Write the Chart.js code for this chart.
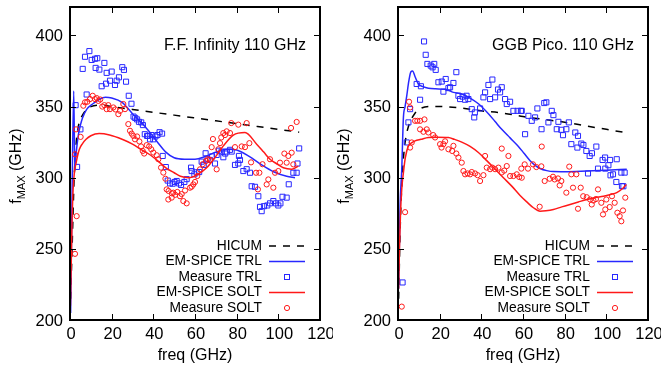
<!DOCTYPE html>
<html>
<head>
<meta charset="utf-8">
<script src="https://cdn.jsdelivr.net/npm/chart.js@4.4.0/dist/chart.umd.min.js"></script>
<style>
  html, body { margin: 0; padding: 0; background: #fff; }
  #wrap { position: relative; width: 667px; height: 369px; }
  .panel { position: absolute; top: 0; width: 333px; height: 369px; }
</style>
</head>
<body>
<div id="wrap">
  <div class="panel" style="left:0"><canvas id="left"></canvas></div>
  <div class="panel" style="left:328px"><canvas id="right"></canvas></div>
</div>
<script>
// axes
const xTicks = [0, 20, 40, 60, 80, 100, 120];
const yTicks = [200, 250, 300, 350, 400];
const legendNames = ['HICUM', 'EM-SPICE TRL', 'Measure TRL', 'EM-SPICE SOLT', 'Measure SOLT'];

// --- F.F. Infinity (left) ---
const hicumL = [[0.3,215],[1,250],[2,300],[3,325],[4,336],[5,341],[6,344],[8,348],[10,350],[15,351],[20,350],[30,348],[40,346],[50,344],[60,342],[70,340],[80,338],[90,336],[100,334],[110,332]];
const trlLineL = [[0.3,205],[1.0,290],[1.8,361],[2.3,305],[3,318],[4,330],[5,337],[6,342],[8,348],[11,352],[14,355],[17,356.5],[20,356],[25,353],[30,345],[36,336],[42,325],[46,318],[50,314],[55,313],[60,313],[65,315],[70,318],[76,320],[80,319.5],[86,315],[92,309],[98,304],[104,301],[108,300]];
const trlPtsL = [[2.7,351],[3.4,307.6],[5.0,334],[8.0,358.5],[6.1,376.5],[7.2,385],[9.3,389],[10.4,382.8],[12,383.6],[13.1,384],[12.3,377.2],[14.1,376],[16.5,380.7],[17.6,373.7],[20,374.6],[15.2,364.3],[17.3,366.1],[19.2,368.2],[21.6,365.2],[22.4,368.2],[23.5,370.6],[25.1,377.7],[25.9,375.8],[26.9,367.5],[28.2,357.6],[29.5,352],[30.5,343],[31.3,342],[32.2,341],[33.1,339.3],[34.2,338.9],[35,337],[35.9,330.6],[37,329.4],[37.4,329.4],[38.4,327],[39.2,330],[40,327],[41,329],[42,330],[43,332],[44.2,331],[44.5,315.3],[46,307.5],[46.9,298],[48,296],[49.3,295.8],[50.2,297],[51.2,297.7],[52.3,296],[53.3,294.9],[54.9,297],[56,299],[58.1,307.1],[58.4,304.7],[59.7,302.4],[60.8,303.8],[62,304],[63.2,311.3],[64.2,309],[65.1,317.2],[66,313],[67.2,312.5],[68.2,315],[69.6,310],[70.4,316],[71.5,319],[72.8,318.4],[73.6,314.4],[74.5,317],[75.2,318.4],[76.8,319.6],[77.6,318.4],[79.2,309],[80.8,310],[81.1,315.3],[81.6,312.5],[83.2,304.7],[84.8,306],[86.4,303.5],[87.2,294],[88.8,293.6],[90.4,287],[91.2,279.5],[92,276.5],[93.1,280],[94.7,280.5],[96,282],[97.6,283.6],[98.9,282],[100,280.5],[101,282],[102,286.6],[104,286],[105,295.4],[107.2,303.5],[108.8,303.5],[109.2,310],[110,320.6]];
const soltLineL = [[0.2,210],[0.6,240],[1.0,270],[1.5,292],[2.1,303.6],[3,311],[4.5,320],[6,324],[7.7,327],[10,329.5],[14,331],[19,330],[25,327],[30,323.6],[34,320],[38,316.5],[42,312],[46,307],[50,303.5],[53,301],[57,300],[61,302],[65.6,307],[70,315],[73.6,322.4],[78.4,330],[84,331.8],[89.6,323.6],[93,318],[96,313],[99,310],[102.4,307],[106.4,306],[109.6,308.2]];
const soltPtsL = [[2.4,246.5],[3.2,273],[2.4,316.5],[2.9,334],[5.1,328.7],[6.4,350.6],[7.2,353],[8.3,353.4],[9.6,355.3],[10.9,357.6],[12,355.3],[12.8,356],[13.6,354],[14.5,355],[15.5,350],[16.5,351],[17.6,348.2],[18.4,351],[19.2,348.2],[20.8,349.4],[21.8,348],[23.2,344.7],[24,347],[25.6,351.8],[26.4,348.2],[28,337.7],[28.8,333],[29.6,331],[30.4,329.4],[31.2,327],[32.2,329],[33.3,325.5],[34.1,322],[34.9,318.8],[35.6,317],[36.8,322.9],[38,322],[39,320],[40,317.7],[41.6,315.8],[42.4,313],[43.7,307.1],[44.8,303.6],[45.8,299.3],[46.4,291.8],[47.3,290.7],[47.2,284.7],[48.8,286],[48.9,289],[49.6,289.5],[50.5,288],[51.5,290],[52.8,287],[53.6,288.5],[54.4,283.6],[55.2,291],[56,282],[57.6,293],[58.4,293.7],[59.2,295.3],[60,297],[61.1,301.2],[62.4,305.9],[63.7,309.5],[65.3,311.8],[66.2,313],[67.2,312.5],[68,321.5],[68.6,327.2],[70.4,305.9],[71.2,320],[72,324.3],[72.6,328.3],[73.6,331.4],[74.4,330],[75.2,332.6],[76.8,331.4],[77.4,338.4],[79.2,321.5],[80.8,337.3],[82.4,322],[84,321.5],[84.8,338.4],[86.1,324.3],[86.9,310.8],[89.3,303.5],[90.2,291.8],[90.9,303.5],[92.4,309.5],[94.4,295.3],[95.2,298.8],[96,313],[97.6,293],[98.4,303.5],[100,304.7],[100.8,310.6],[102.9,317],[104,310.6],[104.8,315.3],[106.1,335],[106.4,317.6],[107.2,309.4],[108.8,339.2]];

// --- GGB Pico (right) ---
const hicumR = [[0.3,215],[0.6,235],[1,262],[2,300],[3,320],[4,330],[5,336],[6,340],[8,345],[10,348],[15,350],[20,350],[30,349],[40,347],[50,345.5],[60,343],[70,341],[80,339],[90,336.5],[100,334],[110,331.5]];
const trlLineR = [[0.3,222],[1.0,280],[1.8,306],[2.6,342.4],[3.4,350],[4.2,357.6],[5.2,368],[6.2,374.5],[7.0,375],[8.2,371],[9.8,365.9],[12,364],[14.6,362.9],[18,362.5],[22.6,362.2],[26.6,360],[30.6,358.9],[34.6,356],[38.6,352],[43.4,345],[46.6,339.5],[49.8,334],[53.8,328],[57.8,322],[60.6,317],[63.4,312],[66,308.5],[68.2,306.5],[71.4,305],[74.6,304.3],[80,304.2],[90.6,304.7],[100,305.3],[109.8,306]];
const trlPtsR = [[2.2,226.4],[4.2,324.8],[5,338.9],[5.8,348.2],[8.96,365.9],[10.6,354.8],[11,364.3],[12.5,395.8],[13.3,386.4],[14.1,380],[15.7,378.8],[16.6,377.6],[17.4,380],[18.1,375.8],[19.4,367.1],[21,367.6],[21.8,360.5],[22.9,369.4],[24.2,363],[25,363.6],[26.6,366.6],[28,374.2],[29,357.6],[29.8,355.3],[31,357],[32.2,354.8],[32.9,357.6],[33.8,355.3],[35.4,348.2],[36.6,342.4],[36.9,345.9],[39.4,348.7],[41,356.5],[41.8,360],[43.4,365.2],[44.2,355.3],[45.3,369],[46.6,356.5],[48,362],[49,360],[49.8,363.6],[51.4,355.3],[52.2,351.8],[53.8,353.4],[55.4,347],[57.4,347],[59,347],[59.4,347],[61,330.6],[62.6,343.5],[64.2,340],[65.8,342.4],[66.9,348.7],[68.9,334.1],[70.2,352.5],[71.2,353],[72.2,338.9],[73.8,347],[74.6,344],[76.2,334.1],[77,339.3],[78.4,333.7],[79.2,329.9],[80.8,334.1],[82,338.9],[83.2,323.6],[85.1,331.8],[86.1,321.2],[86.4,329.4],[88,324],[89,323],[90.4,318.8],[91.2,303],[92,315.3],[93.1,317.2],[95.2,321.9],[96,306.4],[98.2,312.5],[99.4,314.2],[99.5,306.4],[101,308.8],[101.8,312.5],[102,301.7],[103.2,302.4],[104.8,297],[105,313],[107.2,303.6],[107.5,294.1],[108.2,294],[108.8,303.6]];
const soltLineR = [[0.3,222],[0.7,250],[1.2,275],[1.8,292],[2.6,303.6],[3.5,314],[5,322.4],[6.5,324.5],[8.2,325.9],[11,327],[14.6,328.3],[19,328.5],[24.2,328.3],[27,327],[30.6,325],[34.6,322],[38.6,317.7],[42.6,312],[46.6,306],[50.6,300],[54.6,294.1],[58.6,287.5],[61.8,283],[65,278.9],[68.2,276.5],[71,276.8],[74.6,277.7],[78.6,279.5],[82.6,281.2],[86.6,283],[90.6,284.7],[94.6,286],[98.6,287],[102,288.2],[105,289.5],[108.2,293],[109.6,295.3]];
const soltPtsR = [[1.8,209.4],[3.4,275.8],[5.3,353.4],[5.8,349.4],[5.8,321.2],[6.6,324.8],[8.2,340],[9.3,340],[10.6,340],[12.7,341],[10.6,334],[12.2,332.3],[13.8,334],[14.6,331.8],[16.9,330],[17.8,328.3],[20.2,323.6],[20.9,321.2],[21.8,323.6],[22.6,325.6],[24.2,320],[26,318.8],[26.6,322.4],[28,317],[29,314.2],[30.6,310.6],[31.4,304.7],[32.2,302.4],[33.4,303],[34.6,302.4],[35.4,304],[37,303],[38.2,301.8],[39.4,297.7],[41,301.8],[41.8,315.3],[42.6,307.1],[44.2,306],[45.3,307.1],[46.6,306],[48.2,307.1],[49.8,320.5],[49.8,303.7],[51,305],[52.2,308.2],[53,315.3],[53.8,301.2],[55.4,301.2],[57,302.4],[58.2,300.5],[59.2,306.4],[59.4,300],[60.8,309.4],[62.4,306.4],[64.8,309.4],[66.4,307.5],[68,279.6],[68.8,308],[69,321.9],[70.4,297.7],[72.8,299.3],[74.4,300.7],[75.2,298.8],[76.8,299.5],[77.6,294.6],[78.4,297.7],[80.8,289.5],[82.2,307.8],[83.2,302.4],[84,293],[85.6,302.4],[86.4,278.2],[87.7,293],[88.9,287],[90.6,286.3],[92.2,284.7],[93,281.2],[93.8,284],[95,285],[96,291.8],[97.6,282.4],[98.4,274.2],[99.5,277.7],[100,284.7],[101.6,279.4],[102.7,287],[104,282.4],[105.3,275.4],[106.4,273],[107.2,269.4],[108,277],[109.1,286]];

const BLUE = 'rgb(40,40,255)';
const RED = 'rgb(255,25,25)';
const FONT = '"Liberation Sans", Arial, sans-serif';

Chart.defaults.font.family = FONT;
Chart.defaults.color = '#000';

const toXY = arr => arr.map(p => ({ x: p[0], y: p[1] }));

// cadre gnuplot : bordure, ticks vers l'intérieur, labels, légende, titres
const framePlugin = {
  id: 'frame',
  afterDraw(chart, args, opts) {
    const { ctx, chartArea: a, scales: { x, y } } = chart;
    ctx.save();
    ctx.strokeStyle = '#000';
    ctx.lineWidth = 1;
    ctx.beginPath();
    xTicks.forEach(v => {
      const px = Math.round(x.getPixelForValue(v)) + 0.5;
      ctx.moveTo(px, a.bottom); ctx.lineTo(px, a.bottom - 6);
      ctx.moveTo(px, a.top); ctx.lineTo(px, a.top + 6);
    });
    yTicks.forEach(v => {
      const py = Math.round(y.getPixelForValue(v)) + 0.5;
      ctx.moveTo(a.left, py); ctx.lineTo(a.left + 6, py);
      ctx.moveTo(a.right, py); ctx.lineTo(a.right - 6, py);
    });
    ctx.stroke();
    ctx.lineWidth = 2;
    ctx.strokeRect(a.left, a.top, a.right - a.left, a.bottom - a.top);

    // tick labels
    ctx.fillStyle = '#000';
    ctx.font = '16.5px ' + FONT;
    ctx.textBaseline = 'middle';
    ctx.textAlign = 'center';
    xTicks.forEach(v => ctx.fillText(String(v), x.getPixelForValue(v) + 1, a.bottom + 14));
    ctx.textAlign = 'right';
    yTicks.forEach(v => ctx.fillText(String(v), a.left - 7, y.getPixelForValue(v) + 1));

    // x title
    ctx.font = '16px ' + FONT;
    ctx.textAlign = 'center';
    ctx.fillText('freq (GHz)', (a.left + a.right) / 2, a.bottom + 36);

    // label du panneau
    ctx.textAlign = 'right';
    ctx.fillText(opts.label, a.right - 14, 46);

    // légende
    ctx.font = '13.8px ' + FONT;
    const textX = a.right - 58, x0 = a.right - 51, x1 = a.right - 15, mid = (x0 + x1) / 2;
    const rows = [246, 261.5, 277, 292.5, 308];
    legendNames.forEach((name, i) => {
      const ry = rows[i];
      ctx.fillStyle = '#000';
      ctx.fillText(name, textX, ry);
      ctx.lineWidth = 1.5;
      ctx.setLineDash([]);
      if (i === 0) {
        ctx.strokeStyle = '#000';
        ctx.setLineDash([7, 7]);
        ctx.beginPath(); ctx.moveTo(x0, ry); ctx.lineTo(x1, ry); ctx.stroke();
        ctx.setLineDash([]);
      } else if (i === 1 || i === 3) {
        ctx.strokeStyle = i === 1 ? BLUE : RED;
        ctx.beginPath(); ctx.moveTo(x0, ry); ctx.lineTo(x1, ry); ctx.stroke();
      } else if (i === 2) {
        ctx.strokeStyle = BLUE; ctx.lineWidth = 1;
        ctx.strokeRect(mid - 2.5, ry - 2.5, 5, 5);
      } else {
        ctx.strokeStyle = RED; ctx.lineWidth = 1;
        ctx.beginPath(); ctx.arc(mid, ry, 2.6, 0, Math.PI * 2); ctx.stroke();
      }
    });

    // titre axe Y : f_MAX (GHz)
    ctx.translate(21, 166);
    ctx.rotate(-Math.PI / 2);
    ctx.textAlign = 'left';
    ctx.textBaseline = 'alphabetic';
    const big = '16px ' + FONT, small = '11px ' + FONT;
    ctx.font = big; const wf = ctx.measureText('f').width; const wg = ctx.measureText(' (GHz)').width;
    ctx.font = small; const wm = ctx.measureText('MAX').width;
    let cx = -(wf + wm + wg) / 2;
    ctx.fillStyle = '#000';
    ctx.font = big; ctx.fillText('f', cx, 0); cx += wf;
    ctx.font = small; ctx.fillText('MAX', cx, 4); cx += wm;
    ctx.font = big; ctx.fillText(' (GHz)', cx, 0);
    ctx.restore();
  }
};

function makeChart(id, label, hicum, trlLine, trlPts, soltLine, soltPts) {
  return new Chart(document.getElementById(id), {
    type: 'scatter',
    data: {
      datasets: [
        { label: 'Measure SOLT', data: toXY(soltPts), pointStyle: 'circle', pointRadius: 2.6, borderWidth: 1, borderColor: RED, backgroundColor: 'rgba(0,0,0,0)' },
        { label: 'EM-SPICE SOLT', data: toXY(soltLine), showLine: true, pointRadius: 0, borderWidth: 1.5, borderColor: RED, cubicInterpolationMode: 'monotone' },
        { label: 'Measure TRL', data: toXY(trlPts), pointStyle: 'rect', pointRadius: 3.6, borderWidth: 1, borderColor: BLUE, backgroundColor: 'rgba(0,0,0,0)' },
        { label: 'EM-SPICE TRL', data: toXY(trlLine), showLine: true, pointRadius: 0, borderWidth: 1.5, borderColor: BLUE, cubicInterpolationMode: 'monotone' },
        { label: 'HICUM', data: toXY(hicum), showLine: true, pointRadius: 0, borderWidth: 1.5, borderColor: '#000', borderDash: [7, 7], cubicInterpolationMode: 'monotone' }
      ]
    },
    options: {
      responsive: true,
      maintainAspectRatio: false,
      animation: false,
      events: [],
      layout: { padding: { top: 7, right: 13, left: 70, bottom: 49 } },
      plugins: { legend: { display: false }, tooltip: { enabled: false }, frame: { label } },
      scales: {
        x: { type: 'linear', min: 0, max: 120, display: false },
        y: { type: 'linear', min: 200, max: 420, display: false }
      }
    },
    plugins: [framePlugin]
  });
}

makeChart('left', 'F.F. Infinity 110 GHz', hicumL, trlLineL, trlPtsL, soltLineL, soltPtsL);
makeChart('right', 'GGB Pico. 110 GHz', hicumR, trlLineR, trlPtsR, soltLineR, soltPtsR);
</script>
</body>
</html>
